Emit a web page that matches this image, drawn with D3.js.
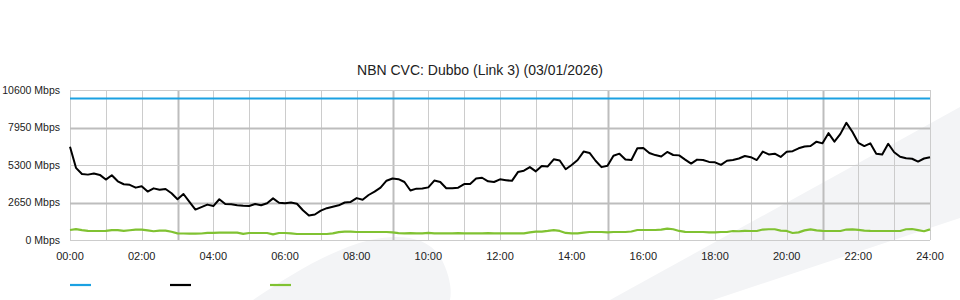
<!DOCTYPE html>
<html>
<head>
<meta charset="utf-8">
<script src="https://cdn.jsdelivr.net/npm/d3@7"></script>
<style>
  html, body { margin: 0; padding: 0; background: #fff; }
  svg { display: block; font-family: "Liberation Sans", Arial, sans-serif; }
</style>
</head>
<body>
<svg id="chart" width="960" height="300"></svg>
<script>
// ---- data (10-minute samples, minutes since 00:00) ----
const title = "NBN CVC: Dubbo (Link 3) (03/01/2026)";
const yTicks = [0, 2650, 5300, 7950, 10600];
const xTickHours = [0, 2, 4, 6, 8, 10, 12, 14, 16, 18, 20, 22, 24];
const capacity = 10000;
const trafficIn = [
  6590, 5100, 4664, 4620, 4700, 4600, 4270, 4580, 4150, 3940,
  3900, 3700, 3800, 3420, 3650, 3550, 3600, 3300, 2880, 3250,
  2700, 2150, 2320, 2500, 2400, 2880, 2540, 2520, 2450, 2420,
  2400, 2540, 2460, 2600, 2940, 2630, 2590, 2650, 2560, 2100,
  1730, 1800, 2080, 2250, 2350, 2450, 2650, 2690, 2960, 2850,
  3180, 3415, 3700, 4190, 4350, 4300, 4100, 3500, 3630, 3640,
  3720, 4200, 4100, 3660, 3650, 3700, 3950, 3957, 4340, 4400,
  4150, 4100, 4287, 4230, 4180, 4800, 4900, 5150, 4850, 5229,
  5200, 5700, 5620, 5000, 5300, 5650, 6250, 6150, 5600, 5150,
  5240, 5950, 6100, 5690, 5650, 6480, 6500, 6150, 6000, 5900,
  6220, 6007, 5980, 5680, 5400, 5680, 5650, 5520, 5489, 5310,
  5600, 5660, 5760, 5936, 5850, 5650, 6250, 6050, 6100, 5870,
  6230, 6280, 6480, 6610, 6643, 6949, 6830, 7550, 6950, 7500,
  8280, 7650, 6870, 6640, 6830, 6100, 6050, 6800, 6200, 5880,
  5771, 5740, 5540, 5760, 5850
];
const trafficOut = [
  707, 770, 700, 640, 636, 636, 640, 700, 700, 640,
  690, 730, 730, 680, 620, 660, 660, 580, 470, 460,
  450, 450, 460, 500, 510, 520, 520, 520, 520, 430,
  495, 495, 495, 495, 400, 495, 495, 470, 424, 424,
  424, 424, 424, 424, 470, 560, 590, 590, 565, 565,
  565, 565, 565, 565, 540, 480, 470, 480, 470, 470,
  500, 470, 470, 470, 470, 480, 470, 470, 470, 470,
  490, 470, 470, 470, 470, 470, 470, 540, 590, 590,
  640, 700, 640, 500, 470, 470, 520, 566, 566, 566,
  540, 566, 566, 566, 600, 707, 707, 707, 707, 730,
  800, 760, 640, 570, 566, 566, 566, 540, 540, 566,
  566, 636, 620, 640, 636, 636, 740, 760, 760, 660,
  640, 495, 540, 680, 754, 680, 640, 636, 636, 636,
  740, 754, 720, 660, 640, 636, 636, 636, 636, 636,
  760, 777, 700, 620, 754
];
const stepMinutes = 10;

// ---- layout ----
const svg = d3.select("#chart");
const mLeft = 70, mRight = 930, mTop = 90, mBottom = 240;
const x = d3.scaleLinear().domain([0, 1440]).range([mLeft, mRight]);
const y = d3.scaleLinear().domain([0, 10600]).range([mBottom, mTop]);

// watermark shapes
svg.append("path")
  .attr("d", "M610,300 L960,107 L960,218 L713,300 Z")
  .attr("fill", "#f3f4f6");
svg.append("path")
  .attr("d", "M253,300 C290,275 330,250 370,240 C400,234 425,236 440,256 C450,275 452,290 450,300 Z")
  .attr("fill", "#f3f4f6");

// title
svg.append("text")
  .attr("x", 480).attr("y", 75)
  .attr("text-anchor", "middle")
  .attr("font-size", 14).attr("fill", "#222")
  .text(title);

// vertical grid (hourly)
const hours = d3.range(0, 25);
svg.append("g").selectAll("line").data(hours).join("line")
  .attr("x1", h => Math.round(x(h * 60)) + 0.5)
  .attr("x2", h => Math.round(x(h * 60)) + 0.5)
  .attr("y1", mTop).attr("y2", mBottom)
  .attr("stroke", h => (h % 6 === 3) ? "#bdbdbd" : "#cccccc")
  .attr("stroke-width", h => (h % 6 === 3) ? 2 : 1);

// horizontal grid
svg.append("g").selectAll("line").data(yTicks).join("line")
  .attr("x1", mLeft).attr("x2", mRight)
  .attr("y1", d => Math.round(y(d)) + 0.5)
  .attr("y2", d => Math.round(y(d)) + 0.5)
  .attr("stroke", d => (d === 2650 || d === 7950) ? "#bdbdbd" : "#cccccc")
  .attr("stroke-width", d => (d === 2650 || d === 7950) ? 2 : 1);

// y labels
svg.append("g").selectAll("text").data(yTicks).join("text")
  .attr("x", 60).attr("y", d => y(d) + 3.5)
  .attr("text-anchor", "end")
  .attr("font-size", 10.5).attr("fill", "#222")
  .text(d => d + " Mbps");

// x labels
svg.append("g").selectAll("text").data(xTickHours).join("text")
  .attr("x", h => x(h * 60)).attr("y", 260)
  .attr("text-anchor", "middle")
  .attr("font-size", 11).attr("fill", "#222")
  .text(h => String(h).padStart(2, "0") + ":00");

// series
const line = d3.line()
  .x((d, i) => x(i * stepMinutes))
  .y(d => y(d));

svg.append("line")
  .attr("x1", x(0)).attr("x2", x(1440))
  .attr("y1", y(capacity)).attr("y2", y(capacity))
  .attr("stroke", "#1ba1e2").attr("stroke-width", 2);

svg.append("path").datum(trafficOut)
  .attr("d", line).attr("fill", "none")
  .attr("stroke", "#80c232").attr("stroke-width", 2.2)
  .attr("stroke-linejoin", "round");

svg.append("path").datum(trafficIn)
  .attr("d", line).attr("fill", "none")
  .attr("stroke", "#000").attr("stroke-width", 2)
  .attr("stroke-linejoin", "round");

// legend
const legend = [
  { x: 70, color: "#1ba1e2" },
  { x: 170, color: "#000" },
  { x: 270, color: "#80c232" }
];
svg.append("g").selectAll("line").data(legend).join("line")
  .attr("x1", d => d.x).attr("x2", d => d.x + 21)
  .attr("y1", 285).attr("y2", 285)
  .attr("stroke", d => d.color).attr("stroke-width", 2.2);
</script>
</body>
</html>
